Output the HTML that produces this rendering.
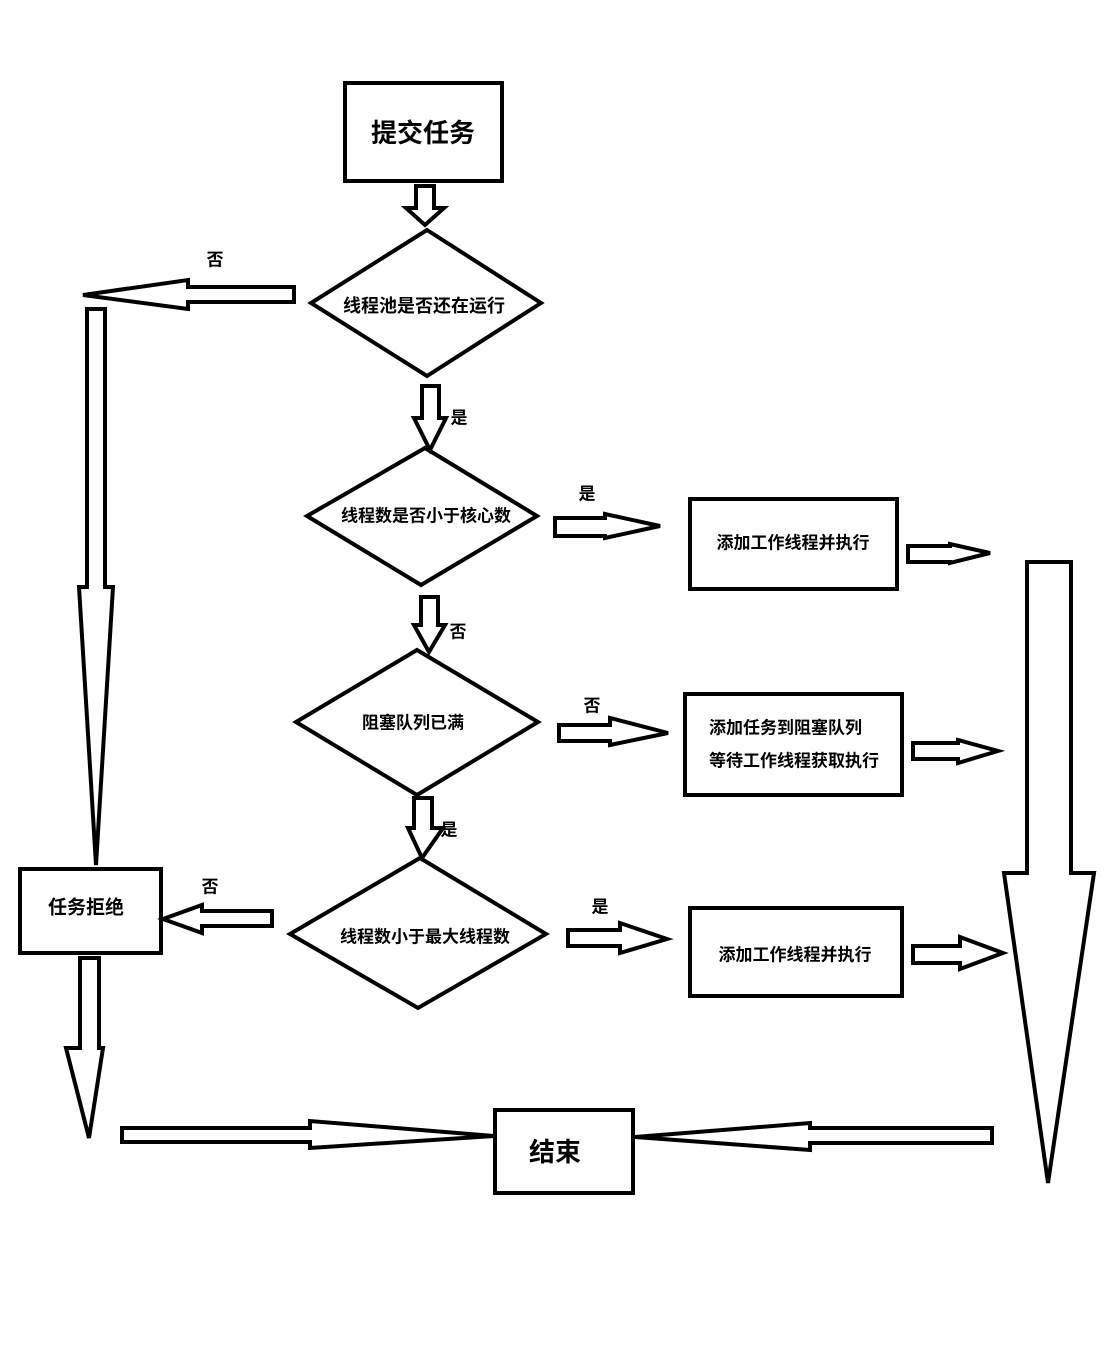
<!DOCTYPE html>
<html><head><meta charset="utf-8"><style>
html,body{margin:0;padding:0;background:#fff;}
svg{display:block;}
text{font-family:"Liberation Sans","Noto Sans CJK SC",sans-serif;font-weight:bold;fill:#000;}
</style></head><body>
<svg width="1116" height="1345" viewBox="0 0 1116 1345" xmlns="http://www.w3.org/2000/svg">
<g fill="#fff" stroke="#000" stroke-width="4" stroke-linejoin="miter">
<!-- boxes -->
<rect x="345" y="83" width="157" height="98"/>
<rect x="690" y="499" width="207" height="90"/>
<rect x="685" y="694" width="217" height="101"/>
<rect x="690" y="908" width="212" height="88"/>
<rect x="20" y="869" width="141" height="84"/>
<rect x="495" y="1110" width="138" height="83"/>
<!-- diamonds -->
<polygon points="427,230 541,303 427,376 311,303"/>
<polygon points="425,448 537,516 421,585 307,516"/>
<polygon points="417,650 538,722 417,795 296,722"/>
<polygon points="420,858 546,934 418,1008 290,934"/>
<!-- down arrows -->
<polygon points="416,186 434,186 434,208 444,208 425,225 406,208 416,208"/>
<polygon points="422,386 439,386 439,418 446,418 430,450 414,418 422,418"/>
<polygon points="421,597 438,597 438,625 445,625 429,652 414,625 421,625"/>
<polygon points="414,798 432,798 432,828 443,828 422,858 408,828 414,828"/>
<polygon points="87,309 105,309 105,587 113,587 96,865 79,587 87,587"/>
<polygon points="80,958 99,958 99,1048 103,1048 89,1138 66,1048 80,1048"/>
<polygon points="1027,562 1071,562 1071,873 1094,873 1048,1183 1004,873 1027,873"/>
<!-- left arrows -->
<polygon points="294,287 294,302 188,302 188,309 83,295 188,280 188,287"/>
<polygon points="272,911 272,926 202,926 202,933 163,919 202,905 202,911"/>
<polygon points="992,1128 992,1143 810,1143 810,1150 635,1137 810,1123 810,1128"/>
<!-- right arrows -->
<polygon points="122,1128 310,1128 310,1121 494,1136 310,1148 310,1142 122,1142"/>
<polygon points="555,518 605,518 605,514 660,526 605,538 605,536 555,536"/>
<polygon points="908,546 950,546 950,544 990,553 950,563 950,562 908,562"/>
<polygon points="559,725 610,725 610,718 668,733 610,745 610,741 559,741"/>
<polygon points="913,743 958,743 958,740 998,751 958,763 958,759 913,759"/>
<polygon points="568,930 620,930 620,923 667,939 620,953 620,946 568,946"/>
<polygon points="913,946 960,946 960,937 1003,953 960,969 960,963 913,963"/>
</g>
<g text-anchor="middle" dominant-baseline="central">
<text x="423" y="133" font-size="26">提交任务</text>
<text x="424" y="306" font-size="18">线程池是否还在运行</text>
<text x="426" y="516" font-size="17">线程数是否小于核心数</text>
<text x="413" y="723" font-size="17">阻塞队列已满</text>
<text x="425" y="937" font-size="17">线程数小于最大线程数</text>
<text x="793" y="543" font-size="17">添加工作线程并执行</text>
<text x="795" y="955" font-size="17">添加工作线程并执行</text>
<text x="86" y="908" font-size="19">任务拒绝</text>
<text x="555" y="1152" font-size="26">结束</text>
<text x="215" y="260" font-size="17">否</text>
<text x="459" y="418" font-size="17">是</text>
<text x="587" y="494" font-size="17">是</text>
<text x="458" y="632" font-size="17">否</text>
<text x="592" y="706" font-size="17">否</text>
<text x="449" y="830" font-size="17">是</text>
<text x="210" y="887" font-size="17">否</text>
<text x="600" y="907" font-size="17">是</text>
</g>
<g dominant-baseline="central">
<text x="709" y="728" font-size="17">添加任务到阻塞队列</text>
<text x="709" y="761" font-size="17">等待工作线程获取执行</text>
</g>
</svg>
</body></html>
